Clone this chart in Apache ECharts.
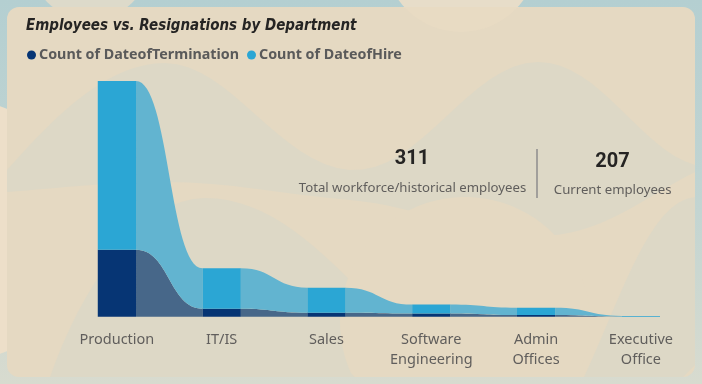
<!DOCTYPE html>
<html>
<head>
<meta charset="utf-8">
<script src="https://cdn.jsdelivr.net/npm/echarts@6/dist/echarts.min.js"></script>
<style>
html,body{margin:0;padding:0;width:702px;height:384px;overflow:hidden;background:#C9D6D1;}
#c{width:702px;height:384px;}
</style>
</head>
<body>
<div id="c"></div>
<script>
// ---- data ----
var categories = ['Production', 'IT/IS', 'Sales', 'Software Engineering', 'Admin Offices', 'Executive Office'];
var terminations = [83, 10, 5, 4, 2, 0];
var hires = [209, 50, 31, 11, 9, 1];
var seriesNames = ['Count of DateofTermination', 'Count of DateofHire'];
var totalEmployees = 311;
var currentEmployees = 207;
var kpiLabels = ['Total workforce/historical employees', 'Current employees'];

// ---- styles ----
var colTermBar = '#063574', colHireBar = '#2BA6D4';
var colTermRib = '#476789', colHireRib = '#62B4D0';
var BAR_FRAC = 0.365;

// ribbon data built from the arrays
var termRibbons = [], hireRibbons = [];
for (var i = 0; i < categories.length - 1; i++) {
  termRibbons.push([i, 0, terminations[i], 0, terminations[i + 1]]);
  hireRibbons.push([i, terminations[i], terminations[i] + hires[i], terminations[i + 1], terminations[i + 1] + hires[i + 1]]);
}

function ribbonRenderer(color) {
  return function (params, api) {
    var i = api.value(0);
    var hw = api.size([1, 0])[0] * BAR_FRAC / 2;
    var a0 = api.coord([i, api.value(1)]);
    var a1 = api.coord([i, api.value(2)]);
    var b0 = api.coord([i + 1, api.value(3)]);
    var b1 = api.coord([i + 1, api.value(4)]);
    var x0 = a0[0] + hw, x1 = b0[0] - hw, xm = (x0 + x1) / 2;
    var d = 'M' + x0 + ',' + a1[1] +
      ' C' + xm + ',' + a1[1] + ' ' + xm + ',' + b1[1] + ' ' + x1 + ',' + b1[1] +
      ' L' + x1 + ',' + b0[1] +
      ' C' + xm + ',' + b0[1] + ' ' + xm + ',' + a0[1] + ' ' + x0 + ',' + a0[1] + ' Z';
    return { type: 'path', shape: { pathData: d }, style: { fill: color } };
  };
}

// decorative shape helper: cubic segments sampled to polygon points
function shape(cmds) {
  var pts = [], cur = null;
  cmds.forEach(function (c) {
    if (c[0] === 'M' || c[0] === 'L') { cur = [c[1], c[2]]; pts.push(cur); }
    else if (c[0] === 'C') {
      var p0 = cur;
      for (var k = 1; k <= 16; k++) {
        var t = k / 16, u = 1 - t;
        pts.push([
          u*u*u*p0[0] + 3*u*u*t*c[1] + 3*u*t*t*c[3] + t*t*t*c[5],
          u*u*u*p0[1] + 3*u*u*t*c[2] + 3*u*t*t*c[4] + t*t*t*c[6]
        ]);
      }
      cur = [c[5], c[6]];
    }
  });
  return pts;
}
function poly(cmds, fill, opacity, z) {
  return { type: 'polygon', z: z, silent: true, shape: { points: shape(cmds) }, style: { fill: fill, opacity: opacity } };
}
function clippedCircle(cx, cy, r, ymin, ymax, fill, opacity, z) {
  var pts = [];
  for (var k = 0; k < 90; k++) {
    var a = k / 90 * Math.PI * 2;
    pts.push([cx + r * Math.cos(a), Math.max(ymin, Math.min(ymax, cy + r * Math.sin(a)))]);
  }
  return { type: 'polygon', z: z, silent: true, shape: { points: pts }, style: { fill: fill, opacity: opacity } };
}

var PEACH = '#E5D9C2', GREY = '#DDD8C6';
var decor = [
  // outside background
  { type: 'rect', z: -20, silent: true, shape: { x: 0, y: 0, width: 702, height: 384 },
    style: { fill: new echarts.graphic.LinearGradient(0, 0, 0, 1, [
      { offset: 0, color: '#B4CFD1' }, { offset: 0.55, color: '#C3D5D2' }, { offset: 1, color: '#D8DBCF' }]) } },
  { type: 'circle', z: -19, silent: true, shape: { cx: -40, cy: 230, r: 130 }, style: { fill: '#EDDFC9' } },
  { type: 'circle', z: -19, silent: true, shape: { cx: 90, cy: -40, r: 60 }, style: { fill: '#E7DCC8', opacity: 0.8 } },
  { type: 'circle', z: -19, silent: true, shape: { cx: 461, cy: -45, r: 77 }, style: { fill: '#EADDC8', opacity: 0.95 } },
  // panel
  { type: 'rect', z: -18, silent: true, shape: { x: 7, y: 7, width: 688, height: 370, r: 12 }, style: { fill: PEACH } },
  clippedCircle(461, -45, 77, 7, 377, '#E8DBC3', 0.8, -17),
  // grey wave band
  poly([['M',7,170],['C',60,110,110,63,165,63],['C',230,63,280,165,350,170],['C',420,175,470,62,538,62],
        ['C',600,62,640,150,695,165],['L',695,172],['C',640,200,600,236,538,236],['C',470,236,420,206,350,200],
        ['C',280,194,230,182,165,182],['C',110,182,60,188,7,192]], GREY, 1, -16),
  // grey dome (left-centre) and grey hill (right)
  poly([['M',50,377],['C',80,290,140,198,205,198],['C',270,198,320,250,370,300],['L',400,377]], GREY, 1, -16),
  clippedCircle(465, 322, 125, 7, 377, PEACH, 1, -15),
  poly([['M',584,377],['C',620,300,650,200,695,197],['L',695,365],['L',683,377]], GREY, 1, -14),
  // KPI
  { type: 'text', z: 10, style: { x: 412, y: 159, text: String(totalEmployees), align: 'center', verticalAlign: 'middle',
      font: 'bold 20px Roboto, "DejaVu Sans"', fill: '#252423' } },
  { type: 'text', z: 10, style: { x: 412.5, y: 188, text: kpiLabels[0], align: 'center', verticalAlign: 'middle',
      font: '13.2px "Noto Sans", "Open Sans", sans-serif', fill: '#605E5C' } },
  { type: 'line', z: 10, shape: { x1: 537, y1: 149, x2: 537, y2: 198 }, style: { stroke: '#8C8C8C', lineWidth: 1.5 } },
  { type: 'text', z: 10, style: { x: 612.5, y: 161.5, text: String(currentEmployees), align: 'center', verticalAlign: 'middle',
      font: 'bold 20px Roboto, "DejaVu Sans"', fill: '#252423' } },
  { type: 'text', z: 10, style: { x: 612.7, y: 190, text: kpiLabels[1], align: 'center', verticalAlign: 'middle',
      font: '13.2px "Noto Sans", "Open Sans", sans-serif', fill: '#605E5C' } }
];

var chart = echarts.init(document.getElementById('c'), null, { renderer: 'canvas' });
chart.setOption({
  animation: false,
  backgroundColor: 'transparent',
  title: {
    text: 'Employees vs. Resignations by Department',
    left: 21, top: 14,
    textStyle: { fontFamily: '"Liberation Sans Narrow", "DejaVu Sans Condensed", sans-serif', fontStyle: 'italic',
      fontWeight: 'bold', fontSize: 15, color: '#252423' }
  },
  legend: {
    left: 22, top: 43, icon: 'circle', itemWidth: 9, itemHeight: 9, itemGap: 8,
    data: seriesNames,
    textStyle: { fontFamily: '"Noto Sans", "Open Sans", sans-serif', fontWeight: 'bold', fontSize: 14.3, color: '#5A5A5A', padding: [0, 0, 0, -2] }
  },
  grid: { left: 64.5, right: 8.7, top: 74.5, bottom: 67.3 },
  xAxis: {
    type: 'category', data: categories,
    axisLine: { show: false }, axisTick: { show: false }, splitLine: { show: false },
    axisLabel: { margin: 13, fontSize: 14.5, lineHeight: 20, color: '#605E5C', interval: 0,
      fontFamily: '"Noto Sans", "Open Sans", sans-serif',
      formatter: function (v) { return v.replace(' ', '\n'); } }
  },
  yAxis: { type: 'value', min: 0, max: 300, show: false, splitLine: { show: false } },
  graphic: decor,
  series: [
    { type: 'custom', name: 'termRibbon', data: termRibbons, renderItem: ribbonRenderer(colTermRib), z: 1,
      encode: { x: 0, y: [1, 2, 3, 4] }, silent: true },
    { type: 'custom', name: 'hireRibbon', data: hireRibbons, renderItem: ribbonRenderer(colHireRib), z: 1,
      encode: { x: 0, y: [1, 2, 3, 4] }, silent: true },
    { type: 'bar', name: seriesNames[0], stack: 'dept', data: terminations, barWidth: (BAR_FRAC * 100) + '%',
      itemStyle: { color: colTermBar }, z: 3 },
    { type: 'bar', name: seriesNames[1], stack: 'dept', data: hires, barWidth: (BAR_FRAC * 100) + '%',
      itemStyle: { color: colHireBar }, z: 3 }
  ]
});
</script>
</body>
</html>
